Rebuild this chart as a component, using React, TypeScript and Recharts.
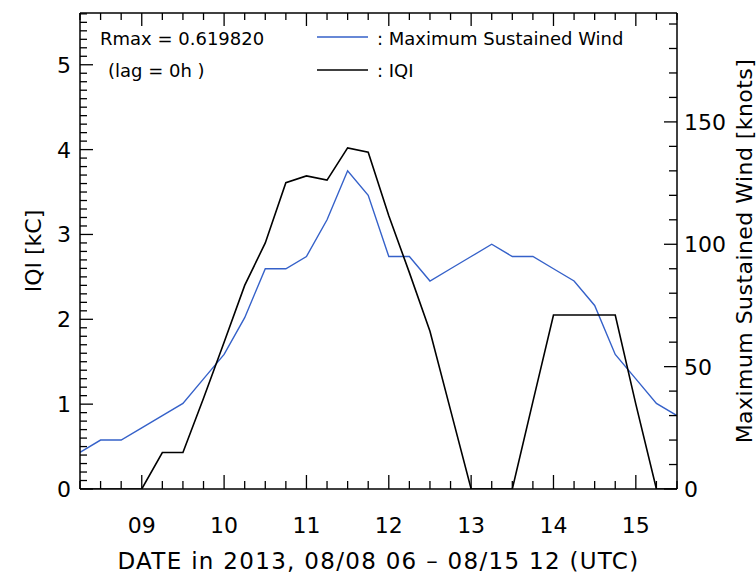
import React from 'react';
import { LineChart, Line, XAxis, YAxis, Legend } from 'recharts';

// 6-hourly samples, hours since 2013-08-08 06 UTC
const HOURS = [0, 6, 12, 18, 24, 30, 36, 42, 48, 54, 60, 66, 72, 78, 84, 90, 96, 102, 108, 114, 120, 126, 132, 138, 144, 150, 156, 162, 168, 174];
// maximum sustained wind [knots]
const WIND = [15, 20, 20, 25, 30, 35, 45, 55, 70, 90, 90, 95, 110, 130, 120, 95, 95, 85, 90, 95, 100, 95, 95, 90, 85, 75, 55, 45, 35, 30];
// IQI [kC]
const IQI = [0, 0, 0, 0, 0.43, 0.43, 1.07, 1.73, 2.4, 2.9, 3.61, 3.69, 3.64, 4.02, 3.97, 3.22, 2.55, 1.86, 0.93, 0, 0, 0, 1.03, 2.05, 2.05, 2.05, 2.05, 1.0, 0, 0];

const DAY_TICKS = [18, 42, 66, 90, 114, 138, 162];
const DAY_LABELS = ['09', '10', '11', '12', '13', '14', '15'];
const IQI_TICKS = [0, 1, 2, 3, 4, 5];
const WIND_TICKS = [0, 50, 100, 150];
const IQI_MINOR = Array.from({ length: 57 }, (_, i) => i / 10);
const WIND_MINOR = Array.from({ length: 20 }, (_, i) => i * 10);

const X_DOMAIN: [number, number] = [0, 174];
const IQI_DOMAIN: [number, number] = [0, 5.61];
const WIND_DOMAIN: [number, number] = [0, 194.5];

const BLUE = '#3561c9';
const BLACK = '#000000';
const FONT = '"DejaVu Sans", "Liberation Sans", sans-serif';

const CHART_W = 756;
const CHART_H = 573;
const TOP_AXIS_H = 13;
const X_AXIS_H = 84;
const PLOT_H = CHART_H - TOP_AXIS_H - X_AXIS_H;

const data = HOURS.map((t, i) => ({ t, iqi: IQI[i], wind: WIND[i] }));

const frame = { stroke: '#000', strokeWidth: 1.5 };
const TICK_W = 1.3;
const LABEL_SIZE = 22;

const isMajorIqi = (v: number) => IQI_TICKS.some((m) => Math.abs(m - v) < 1e-6);

// ticks point into the plot (IDL style), labels outside; the top frame gets the same ticks
const BottomTick = (props: any) => {
  const { x, y, payload } = props;
  const k = DAY_TICKS.indexOf(payload.value);
  const top = y - PLOT_H;
  return (
    <g>
      <line x1={x} x2={x} y1={y} y2={y - (k >= 0 ? 14 : 8)} stroke="#000" strokeWidth={TICK_W} />
      <line x1={x} x2={x} y1={top} y2={top + (k >= 0 ? 13 : 7)} stroke="#000" strokeWidth={TICK_W} />
      {k >= 0 && (
        <text x={x} y={y + 44} textAnchor="middle" fontSize={LABEL_SIZE} fill="#000">{DAY_LABELS[k]}</text>
      )}
    </g>
  );
};

const LeftTick = (props: any) => {
  const { x, y, payload } = props;
  const major = isMajorIqi(payload.value);
  return (
    <g>
      <line x1={x} x2={x + (major ? 13 : 7)} y1={y} y2={y} stroke="#000" strokeWidth={TICK_W} />
      {major && (
        <text x={x - 9} y={y} dy="0.36em" textAnchor="end" fontSize={LABEL_SIZE} fill="#000">
          {Math.round(payload.value)}
        </text>
      )}
    </g>
  );
};

const RightTick = (props: any) => {
  const { x, y, payload } = props;
  const major = WIND_TICKS.includes(payload.value);
  return (
    <g>
      <line x1={x} x2={x - (major ? 13 : 8)} y1={y} y2={y} stroke="#000" strokeWidth={TICK_W} />
      {major && (
        <text x={x + 7} y={y} dy="0.36em" textAnchor="start" fontSize={LABEL_SIZE} fill="#000">
          {payload.value}
        </text>
      )}
    </g>
  );
};

const LEGEND_ORDER = ['wind', 'iqi'];

const renderLegend = (props: any) => {
  const payload = (props.payload || [])
    .slice()
    .sort((a: any, b: any) => LEGEND_ORDER.indexOf(a.dataKey) - LEGEND_ORDER.indexOf(b.dataKey));
  return (
    <svg width={CHART_W} height={95} style={{ display: 'block', fontFamily: FONT }}>
      <text x={100} y={45} fontSize={18} fill="#000">Rmax = 0.619820</text>
      <text x={108} y={77} fontSize={18} fill="#000">(lag = 0h )</text>
      {payload.map((entry: any, k: number) => (
        <g key={entry.value}>
          <line x1={317} x2={368} y1={37 + 33 * k} y2={37 + 33 * k} stroke={entry.color} strokeWidth={1.6} />
          <text x={377} y={45 + 32 * k} fontSize={18} fill="#000">: {entry.value}</text>
        </g>
      ))}
    </svg>
  );
};

export default function App() {
  return (
    <div style={{ width: CHART_W, height: CHART_H, fontFamily: FONT, background: '#fff' }}>
      <style>{'body { margin: 0; overflow: hidden; }'}</style>
      <LineChart width={CHART_W} height={CHART_H} data={data} margin={{ top: 0, right: 0, bottom: 0, left: 0 }}>
        <XAxis
          xAxisId="x"
          type="number"
          dataKey="t"
          domain={X_DOMAIN}
          allowDataOverflow
          ticks={HOURS}
          interval={0}
          height={X_AXIS_H}
          axisLine={frame}
          tickLine={false}
          tickSize={0}
          tickMargin={0}
          tick={BottomTick}
          label={{
            value: 'DATE in 2013, 08/08 06 – 08/15 12 (UTC)',
            position: 'insideBottom',
            offset: 4,
            fill: '#000',
            fontSize: 23,
            style: { letterSpacing: 1.3 },
          }}
        />
        {/* top frame line only */}
        <XAxis
          xAxisId="top"
          orientation="top"
          type="number"
          domain={X_DOMAIN}
          allowDataOverflow
          ticks={DAY_TICKS}
          height={TOP_AXIS_H}
          axisLine={frame}
          tickLine={false}
          tick={false}
        />
        <YAxis
          yAxisId="iqi"
          type="number"
          domain={IQI_DOMAIN}
          allowDataOverflow
          ticks={IQI_MINOR}
          interval={0}
          width={80}
          axisLine={frame}
          tickLine={false}
          tickSize={0}
          tickMargin={0}
          tick={LeftTick}
          label={{
            value: 'IQI [kC]',
            angle: -90,
            position: 'insideLeft',
            offset: 33,
            fill: '#000',
            fontSize: 22,
            style: { textAnchor: 'middle' },
          }}
        />
        <YAxis
          yAxisId="wind"
          orientation="right"
          type="number"
          domain={WIND_DOMAIN}
          allowDataOverflow
          ticks={WIND_MINOR}
          interval={0}
          width={79}
          axisLine={frame}
          tickLine={false}
          tickSize={0}
          tickMargin={0}
          tick={RightTick}
          label={{
            value: 'Maximum Sustained Wind [knots]',
            angle: -90,
            position: 'insideRight',
            offset: 12,
            fill: '#000',
            fontSize: 22,
            style: { textAnchor: 'middle', letterSpacing: 0.45 },
          }}
        />

        <Legend
          content={renderLegend}
          layout="horizontal"
          verticalAlign="middle"
          align="center"
          wrapperStyle={{ left: 0, top: 0, width: CHART_W, height: 95, pointerEvents: 'none' }}
        />

        <Line
          xAxisId="x"
          yAxisId="wind"
          dataKey="wind"
          name="Maximum Sustained Wind"
          type="linear"
          stroke={BLUE}
          strokeWidth={1.4}
          dot={false}
          isAnimationActive={false}
        />
        <Line
          xAxisId="x"
          yAxisId="iqi"
          dataKey="iqi"
          name="IQI"
          type="linear"
          stroke={BLACK}
          strokeWidth={1.6}
          dot={false}
          isAnimationActive={false}
        />
      </LineChart>
    </div>
  );
}
